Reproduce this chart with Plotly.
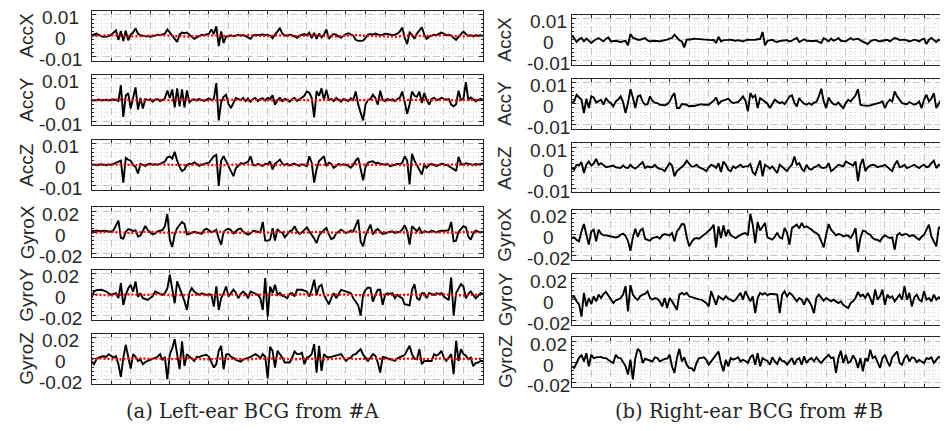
import numpy as np
import plotly.graph_objects as go

# ---------------- data (values in units of 1e-4) ----------------
SCALE = 1e-4
channels = ["AccX", "AccY", "AccZ", "GyroX", "GyroY", "GyroZ"]
acc_ticks = [0.01, 0.0, -0.01]
acc_tick_text = ["0.01", "0", "-0.01"]
gyro_ticks = [0.02, 0.0, -0.02]
gyro_tick_text = ["0.02", "0", "-0.02"]
captions = ["(a) Left-ear BCG from #A", "(b) Right-ear BCG from #B"]

left_accx = [2,5,10,4,-3,-5,-4,-3,5,15,
25,-20,22,-25,24,-22,5,15,35,10,
2,0,-3,-2,-5,-3,0,5,3,6,
10,30,15,0,-15,-30,5,15,12,15,
5,-5,-15,-8,0,5,3,5,10,30,
8,45,-50,20,-35,-5,0,2,-3,3,
5,0,3,-2,-8,-15,0,5,3,5,
6,3,5,0,-12,5,20,35,10,2,
0,5,3,-5,-10,0,5,8,3,15,
-12,14,-15,10,-8,5,30,-15,0,8,
5,-5,-10,0,8,12,5,0,-20,-25,
-25,-24,-10,5,8,5,10,6,2,5,
10,8,5,3,5,10,20,40,-10,-40,
15,5,-15,10,25,40,5,-15,-5,0,
5,3,8,15,10,2,5,0,-10,-20,
-5,10,20,8,0,2,-3,3,0,2,
0]
left_accy = [0,-2,0,2,-1,0,1,-2,0,2,
0,-5,70,-80,20,33,-40,10,60,-45,
10,-40,5,0,3,-8,2,5,-5,0,
8,45,10,50,-35,55,-30,50,-35,45,
-10,0,3,-3,5,0,-5,2,8,0,
5,80,-97,-10,15,25,-20,-38,-10,10,
5,0,10,-5,8,-8,5,10,-5,5,
8,-3,10,5,22,-22,0,10,-5,5,
0,-8,5,10,-5,3,8,20,40,35,
10,-82,42,20,55,0,48,0,5,-5,
10,0,-8,5,0,-5,8,0,40,-22,
-60,-97,-20,0,5,25,10,-22,44,0,
-5,5,0,3,-5,5,10,40,-10,-66,
-20,40,20,15,40,-14,33,0,-22,5,
10,0,3,10,5,2,5,-22,-30,-20,
44,0,5,85,0,12,5,-6,0,6,
0]
left_accz = [0,2,-2,0,3,0,-2,2,0,5,
10,16,20,-85,33,25,20,0,-10,-41,
5,0,-5,3,5,0,3,0,5,10,
16,36,40,30,62,20,-10,-30,-22,0,
5,3,12,5,-5,0,5,8,10,25,
41,48,-100,20,41,18,-10,-30,-54,-15,
-5,8,5,10,15,41,0,-3,5,0,
-5,5,3,16,-22,5,15,25,5,0,
5,-3,3,5,0,-5,3,0,-6,41,
10,-85,-20,18,30,41,-6,10,5,-14,
-5,5,0,3,0,-5,-14,0,20,33,
-20,-74,-10,10,15,17,8,10,5,3,
0,5,-6,-3,0,5,3,10,41,20,
-93,52,20,0,-20,-46,0,-14,0,5,
0,-6,0,5,3,0,-5,-14,-20,-30,
38,5,0,8,5,3,0,5,2,4,
5]
left_gyrox = [10,16,16,14,10,16,10,8,5,20,
60,112,-54,-60,5,30,25,10,20,-40,
-30,10,60,20,0,-20,-10,10,15,20,
60,176,-70,-141,-20,40,70,99,80,-20,
-15,-5,5,0,-10,-15,20,35,20,0,
10,25,-60,-118,5,25,35,20,-10,10,
30,35,5,-10,-22,-10,15,10,5,0,
99,-80,-80,-70,40,-80,30,5,-5,-48,
-20,10,20,58,10,-16,0,20,48,10,
-20,-60,-102,-30,0,20,42,-20,-64,-55,
-10,5,25,10,-6,0,16,10,60,122,
-90,-134,-30,20,74,-22,15,32,10,-16,
-10,0,5,10,-6,0,5,25,67,10,
-118,58,30,10,42,-6,10,5,0,16,
5,0,10,16,12,16,20,99,-86,-80,
5,30,58,48,-40,-70,-10,16,5,0,
3]
left_gyroy = [-32,32,45,50,48,40,32,15,0,10,
16,-32,112,-96,0,60,96,30,128,-20,
16,-32,-40,-48,-30,-15,32,20,15,0,
16,60,192,60,-80,128,64,20,-60,-144,
20,64,30,15,0,15,5,0,5,0,
-112,80,-144,-30,15,80,-16,20,50,20,
-32,10,32,10,-32,32,20,15,0,-32,
-144,160,-208,80,16,96,0,20,-10,-16,
-32,10,16,-16,48,48,48,40,32,-16,
50,144,0,80,96,0,-40,-90,-32,16,
-32,10,48,40,32,20,16,-32,-64,-100,
-198,0,48,70,64,-64,0,48,48,-96,
0,16,10,16,-32,0,-20,-32,-90,-96,
-100,48,102,-32,-48,16,16,-32,16,10,
0,16,10,16,-16,-32,-50,166,-198,16,
60,102,80,-32,10,32,0,-32,-10,16,
10]
left_gyroz = [-20,-51,-5,13,20,25,19,45,30,13,
25,-51,-173,10,134,30,-93,45,20,-20,
-5,-51,-30,-20,-10,-5,10,20,45,-13,
19,-195,45,100,189,40,-99,166,-67,45,
20,5,-20,19,15,29,35,38,20,-35,
-83,-50,77,125,-99,40,45,20,10,-10,
-20,-26,-5,0,10,19,30,45,30,5,
45,20,-186,115,77,-83,77,45,10,-35,
-35,-35,13,70,45,45,58,-51,13,20,
45,141,-131,125,-115,45,20,13,19,25,
29,35,45,10,-20,0,13,40,45,70,
93,40,13,-20,10,45,30,-35,-131,19,
13,5,0,-5,-20,5,19,25,38,80,
125,45,0,-5,93,-51,-20,-20,-20,-20,
45,30,45,77,13,-20,10,45,-147,173,
-20,93,45,30,-5,13,-70,-40,-35,-20,
-20]

# red dotted reference curves (left panel only)
red_accx = [-2,0,3,-1,-4,-2,1,3,0,-3,-5,-2,2,0,-3,1,3,-1,-2,2,0,-3,1,2,-2,-4,0,3,-1,-3,-6,-5,0,2,-2,1,3,-1,-3,0,-2]
red_accy = [0,-2,1,3,-1,-3,0,2,-2,1,3,0,-3,-1,2,0,-2,1,-1,-3,0,2,-1,-2,1,3,-1,-2,0,2,-2,-3,1,2,0,-1,2,-2,0,1,-1]
red_accz = [0,1,-1,2,0,-2,1,3,0,-2,-1,2,0,-3,-1,2,1,-2,0,-1,-3,0,2,-1,1,-2,0,3,1,-1,2,0,-2,1,3,0,-1,2,0,-2,1]
red_gyrox = [-5,0,5,-3,-8,2,6,-2,-6,3,0,-5,4,7,-2,-6,0,3,-4,5,2,-6,-3,4,0,-5,3,6,-2,-4,1,5,-3,-6,2,4,-1,-5,3,0,-2]
red_gyroy = [3,-2,-6,2,5,-3,0,6,-4,-2,4,1,-5,3,6,-2,-4,2,0,-6,-3,3,5,-1,-5,2,4,-2,-6,0,3,-4,2,5,-3,0,4,-2,-5,2,0]
red_gyroz = [0,4,-3,-6,2,5,-2,3,-4,1,6,-3,-5,2,4,-1,-6,3,0,5,-2,-4,3,1,-5,2,6,-3,0,4,-2,-5,1,3,-4,2,5,-1,-3,2,0]

right_accx = [21,8,-11,2,8,-8,5,-5,-16,-5,
3,8,0,-8,5,11,-8,-6,-5,-8,
-11,-8,-5,-27,27,10,5,0,0,3,
8,-3,-8,-6,-5,-6,-8,-6,-5,0,
5,8,24,8,-2,-8,-37,0,0,2,
5,4,3,2,0,1,0,-2,0,-16,
14,-8,-2,0,-1,0,-3,-5,-2,-5,
-8,-3,0,-1,-2,0,2,3,37,-27,
-5,-2,0,-8,-11,-6,-5,-3,-2,-8,
-5,3,8,-11,-4,2,-5,-6,-8,-6,
-5,-10,-16,8,-2,-8,5,-5,0,8,
-5,-6,-8,0,8,0,3,5,-3,-11,
-15,-21,-8,-3,0,-5,-8,-5,-3,0,
-8,2,8,5,-2,-1,0,-3,-8,-4,
0,-3,-8,0,5,-21,0,8,0,-11,
0,-4,-8,-3,0,-8,-16,8,0,-5,
2]
right_accy = [3,11,43,30,19,-45,24,-21,35,30,
6,12,19,-5,27,10,3,-13,11,20,
35,8,-45,3,70,30,-21,35,40,10,
-5,-2,35,14,5,3,-5,-6,-8,-2,
10,35,51,-21,-21,-2,-3,-5,-13,-10,
-11,-8,-5,-2,-5,-4,-5,5,14,30,
-2,11,14,20,24,10,3,5,8,20,
35,15,-37,51,30,40,-21,27,19,8,
0,-21,3,19,10,3,8,-2,15,35,
40,5,-13,27,11,0,-5,3,-5,5,
8,35,72,11,-21,30,10,-2,-5,6,
-10,-21,3,19,11,24,40,70,-5,-8,
-10,-10,-8,-5,-2,3,5,11,-21,5,
19,11,59,35,19,3,0,-2,8,3,
-5,0,11,-21,20,43,11,25,51,-21,
3,19,5,-13,35,-5,10,40,5,-10,
8]
right_accz = [2,-10,14,11,27,-26,14,30,10,20,
43,14,22,10,2,5,8,10,2,0,
-2,11,0,-2,14,2,-5,5,14,27,
-2,6,2,3,14,0,-6,-8,-17,6,
22,10,-42,-17,-5,2,14,34,22,5,
6,14,2,-3,-8,-17,2,14,9,-2,
22,-21,30,14,-10,-17,6,-2,6,14,
2,6,6,18,-22,-34,2,34,-42,14,
6,-5,6,-10,-26,14,2,-8,-17,2,
14,54,14,22,-5,-17,14,-5,-10,2,
6,14,0,-2,2,22,-17,-8,2,14,
10,6,30,22,14,10,30,-66,14,43,
-17,2,10,14,11,2,6,8,14,2,
-10,-17,14,34,2,6,14,-2,2,8,
14,6,-2,8,14,2,6,22,34,-2,
14,6,10,14,2,-10,6,14,2,-5,
5]
right_gyrox = [-32,-26,-50,-64,32,102,0,-96,32,48,
-64,48,10,-6,-6,-10,-16,-20,-26,-20,
0,10,-10,-60,-154,-26,58,-20,40,58,
-40,-50,-58,-32,-26,-20,-38,-6,6,0,
-6,16,-64,32,60,102,100,-20,-112,-70,
-40,-32,-38,-20,-6,16,38,60,96,-122,
80,-32,90,-16,48,-6,-20,-32,-16,0,
10,16,-6,198,96,-80,122,40,80,112,
-26,-38,-48,-20,20,-26,-38,64,20,-96,
64,80,96,60,112,70,80,64,50,26,
16,-6,-60,-122,0,102,48,20,-6,6,
0,-16,-6,-10,-32,6,64,-166,-32,38,
32,10,0,-32,-46,-50,-64,-26,-6,-20,
-32,-26,-144,-6,16,-6,6,6,-16,-6,
-10,-32,-48,-20,0,48,96,-16,-60,-112,
64,80,60,20,-16,16,6,-6,10,-20,
0]
right_gyroy = [13,29,-19,-45,-163,61,-67,13,-45,29,
-19,45,13,51,70,29,0,-35,-10,0,
13,45,125,-115,134,45,13,-5,29,45,
51,77,13,-3,13,5,-19,-67,13,-83,
13,-19,-67,-99,45,61,45,61,29,20,
13,6,0,-3,-19,-35,-67,77,13,-51,
29,13,-3,29,6,-3,-19,-3,29,61,
-3,77,29,-19,29,-131,13,61,45,61,
38,51,51,45,45,-131,45,77,29,61,
45,13,-19,13,-3,-51,13,-19,-60,-131,
13,45,19,-13,13,-3,-19,-3,-19,-35,
-19,-51,-67,-83,-35,-19,13,70,29,45,
13,61,13,-51,93,-3,29,93,-51,45,
13,29,-19,13,45,-3,125,-3,61,-67,
19,45,-3,-19,77,-3,13,-19,45,-3,
20,0,-19,77,-3,13,29,-3,10,-19,
5]
right_gyroz = [-42,-58,-10,40,70,6,86,-42,70,38,
45,48,50,38,38,20,6,-10,70,40,
38,0,-40,-122,22,-170,38,128,102,-10,
32,22,10,6,45,38,6,22,30,32,
70,-42,-106,38,128,6,45,-26,-58,-60,
-90,-10,38,40,45,22,-26,6,40,70,
102,-10,-90,22,-42,38,22,32,45,6,
22,10,-10,45,70,-26,86,-42,38,22,
10,-26,45,6,-20,38,10,6,-26,6,
38,-26,22,38,-26,55,-10,22,38,6,
45,13,-10,22,45,70,38,45,-106,38,
109,-10,70,-10,6,64,22,-58,38,-90,
38,6,118,38,54,6,-58,38,70,6,
-42,45,70,102,-10,-26,38,70,6,45,
38,0,20,6,-10,38,30,45,-10,20,
50,38,80,6,10,64,70,13,20,38,
10]

left_series = [left_accx, left_accy, left_accz, left_gyrox, left_gyroy, left_gyroz]
left_red = [red_accx, red_accy, red_accz, red_gyrox, red_gyroy, red_gyroz]
right_series = [right_accx, right_accy, right_accz, right_gyrox, right_gyroy, right_gyroz]

SAMPLES_PER_TICK = 8
RED_PER_TICK = 2
N_TICKS = 20

# ---------------- layout geometry (pixels) ----------------
W, H = 948, 431
LEFT_X = (83.5, 475.0)
RIGHT_X = (563.7, 948.0)
LEFT_ROWS = [(2.7, 52.7), (66.7, 117.3), (131.7, 182.0), (199.3, 249.3), (261.7, 312.0), (325.7, 376.0)]
RIGHT_ROWS = [(6.7, 56.7), (70.7, 120.7), (135.0, 184.3), (201.7, 251.7), (266.0, 316.7), (329.3, 378.7)]
UNIT_PX = (LEFT_X[1] - LEFT_X[0]) / N_TICKS
TICKLABEL_CX = {0: 52.0, 1: 540.5}
YLABEL_CX = {0: 19.0, 1: 497.0}
CAPTION_CX = [245.0, 741.0]
CAPTION_CY = 403.0

INK = "#262626"
GRID_MAJ = "#c6c6c6"
GRID_MIN = "#dcdcdc"
TICK_FONT = dict(family="Liberation Sans, Arial, sans-serif", size=19, color=INK)


def px_x(p):
    return p / W


def px_y(p):
    return 1 - p / H


fig = go.Figure()
annotations = []
layout_axes = {}

idx = 0
for col, (series_list, rows, xpx) in enumerate([(left_series, LEFT_ROWS, LEFT_X), (right_series, RIGHT_ROWS, RIGHT_X)]):
    for r in range(6):
        idx += 1
        xa = "x" if idx == 1 else f"x{idx}"
        ya = "y" if idx == 1 else f"y{idx}"
        xkey = "xaxis" if idx == 1 else f"xaxis{idx}"
        ykey = "yaxis" if idx == 1 else f"yaxis{idx}"
        is_gyro = r >= 3
        ymax = 0.024 if is_gyro else 0.012
        ydt = 0.02 if is_gyro else 0.01
        yminor = 0.004 if is_gyro else 0.002
        tick_vals = gyro_ticks if is_gyro else acc_ticks
        tick_txt = gyro_tick_text if is_gyro else acc_tick_text

        vals = np.array(series_list[r], dtype=float) * SCALE
        t = np.arange(len(vals)) / SAMPLES_PER_TICK
        fig.add_trace(go.Scatter(x=t, y=vals, mode="lines", xaxis=xa, yaxis=ya,
                                 line=dict(color="black", width=1.9), showlegend=False,
                                 hoverinfo="skip"))
        if col == 0:
            rv = np.array(left_red[r], dtype=float) * SCALE
            tr = np.arange(len(rv)) / RED_PER_TICK
            fig.add_trace(go.Scatter(x=tr, y=rv, mode="lines", xaxis=xa, yaxis=ya,
                                     line=dict(color="#ff0000", width=2.3, dash="2px,2px"),
                                     showlegend=False, hoverinfo="skip"))

        xr = (xpx[1] - xpx[0]) / UNIT_PX
        top, bot = rows[r]
        layout_axes[xkey] = dict(
            domain=[px_x(xpx[0]), px_x(xpx[1])], range=[0, xr], anchor=ya,
            showline=True, linecolor=INK, linewidth=1.4, mirror="ticks",
            ticks="inside", ticklen=3, tickwidth=1.2, tickcolor=INK,
            tick0=0, dtick=1, showticklabels=False,
            showgrid=True, gridcolor=GRID_MAJ, griddash="7px,4px", gridwidth=1,
            minor=dict(dtick=0.25, showgrid=True, gridcolor=GRID_MIN, griddash="1px,2px", ticks=""),
            zeroline=False, fixedrange=True)
        layout_axes[ykey] = dict(
            domain=[px_y(bot), px_y(top)], range=[-ymax, ymax], anchor=xa,
            showline=True, linecolor=INK, linewidth=1.4,
            mirror="ticks" if col == 0 else False,
            ticks="inside", ticklen=4, tickwidth=1.2, tickcolor=INK,
            tick0=0, dtick=ydt, showticklabels=False,
            showgrid=True, gridcolor=GRID_MAJ, griddash="7px,4px", gridwidth=1,
            minor=dict(dtick=yminor, showgrid=True, gridcolor=GRID_MIN, griddash="1px,2px",
                       ticks="inside", ticklen=2, tickcolor=INK),
            zeroline=False, fixedrange=True)

        for v, s in zip(tick_vals, tick_txt):
            annotations.append(dict(x=px_x(TICKLABEL_CX[col]), y=v, xref="paper", yref=ya,
                                    text=s, showarrow=False, xanchor="center", yanchor="middle",
                                    yshift=-3, borderpad=0, font=TICK_FONT))
        annotations.append(dict(x=px_x(YLABEL_CX[col]), y=px_y((top + bot) / 2), xref="paper", yref="paper",
                                text=channels[r], textangle=-90, showarrow=False,
                                xanchor="center", yanchor="middle", font=TICK_FONT))

for cx, cap in zip(CAPTION_CX, captions):
    annotations.append(dict(x=px_x(cx), y=px_y(CAPTION_CY), xref="paper", yref="paper",
                            text=cap, showarrow=False, xanchor="center", yanchor="middle",
                            font=dict(family="DejaVu Serif, Liberation Serif, serif", size=19.5, color=INK)))

fig.update_layout(width=W, height=H, margin=dict(l=0, r=0, t=0, b=0),
                  paper_bgcolor="white", plot_bgcolor="white",
                  annotations=annotations, showlegend=False, **layout_axes)

fig.write_html("out.html", config={"displayModeBar": False})
